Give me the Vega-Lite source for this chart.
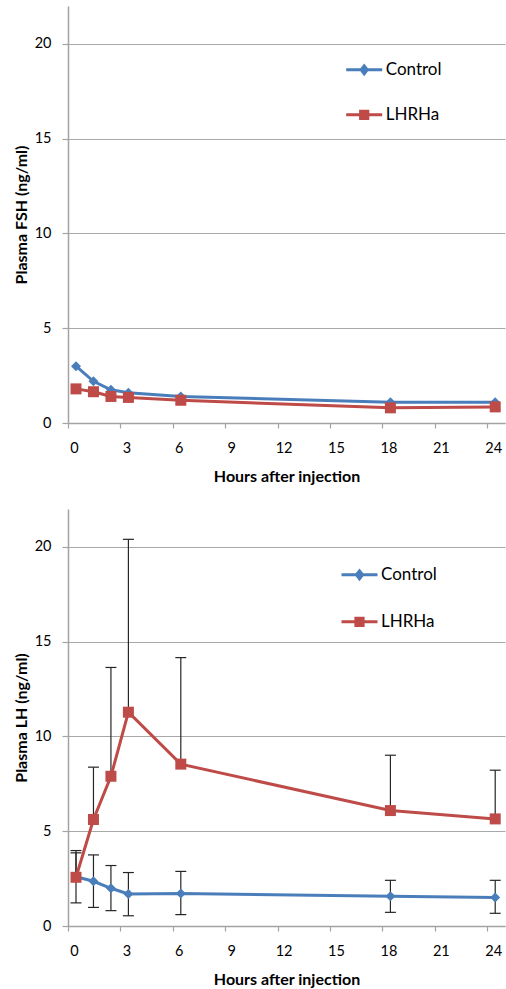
{
  "$schema": "https://vega.github.io/schema/vega-lite/v6.json",
  "padding": {"left": 13, "top": 6, "right": 3, "bottom": 0},
  "background": "white",
  "config": {
    "font": "Lato",
    "view": {"stroke": null},
    "axis": {
      "domainColor": "#a3a3a3",
      "domainWidth": 1.5,
      "tickColor": "#a3a3a3",
      "tickWidth": 1.2,
      "gridColor": "#a8a8a8",
      "gridWidth": 1.2,
      "labelFont": "Lato",
      "labelFontSize": 14.5,
      "labelColor": "#000000",
      "titleFont": "Lato",
      "titleFontSize": 16,
      "titleFontWeight": "bold",
      "titleColor": "#000000"
    },
    "axisX": {"tickSize": 5, "labelPadding": 13, "titlePadding": 14, "grid": false},
    "axisY": {"tickSize": 6, "labelPadding": 11, "titlePadding": 5, "grid": true}
  },
  "datasets": {
    "fsh": [
      {"group": "Control", "hours": 0, "value": 3.0},
      {"group": "Control", "hours": 1, "value": 2.2},
      {"group": "Control", "hours": 2, "value": 1.75},
      {"group": "Control", "hours": 3, "value": 1.6},
      {"group": "Control", "hours": 6, "value": 1.4},
      {"group": "Control", "hours": 18, "value": 1.1},
      {"group": "Control", "hours": 24, "value": 1.1},
      {"group": "LHRHa", "hours": 0, "value": 1.8},
      {"group": "LHRHa", "hours": 1, "value": 1.65},
      {"group": "LHRHa", "hours": 2, "value": 1.4},
      {"group": "LHRHa", "hours": 3, "value": 1.35},
      {"group": "LHRHa", "hours": 6, "value": 1.2},
      {"group": "LHRHa", "hours": 18, "value": 0.8},
      {"group": "LHRHa", "hours": 24, "value": 0.85}
    ],
    "lh": [
      {"group": "Control", "hours": 0, "value": 2.6, "lo": 1.22, "hi": 3.98},
      {"group": "Control", "hours": 1, "value": 2.36, "lo": 0.98, "hi": 3.75},
      {"group": "Control", "hours": 2, "value": 1.99, "lo": 0.81, "hi": 3.19},
      {"group": "Control", "hours": 3, "value": 1.69, "lo": 0.54, "hi": 2.82},
      {"group": "Control", "hours": 6, "value": 1.72, "lo": 0.6, "hi": 2.88},
      {"group": "Control", "hours": 18, "value": 1.57, "lo": 0.72, "hi": 2.41},
      {"group": "Control", "hours": 24, "value": 1.51, "lo": 0.67, "hi": 2.41},
      {"group": "LHRHa", "hours": 0, "value": 2.57, "lo": 2.57, "hi": 3.86},
      {"group": "LHRHa", "hours": 1, "value": 5.62, "lo": 5.62, "hi": 8.38},
      {"group": "LHRHa", "hours": 2, "value": 7.9, "lo": 7.9, "hi": 13.64},
      {"group": "LHRHa", "hours": 3, "value": 11.28, "lo": 11.28, "hi": 20.4},
      {"group": "LHRHa", "hours": 6, "value": 8.54, "lo": 8.54, "hi": 14.16},
      {"group": "LHRHa", "hours": 18, "value": 6.09, "lo": 6.09, "hi": 9.01},
      {"group": "LHRHa", "hours": 24, "value": 5.65, "lo": 5.65, "hi": 8.22}
    ]
  },
  "spacing": 86,
  "bounds": "flush",
  "resolve": {"scale": {"color": "independent"}, "legend": {"color": "independent"}},
  "vconcat": [
    {
      "width": 437,
      "height": 417,
      "data": {"name": "fsh"},
      "encoding": {
        "x": {"field": "hours", "type": "quantitative",
          "scale": {"domain": [-0.458, 24.56], "nice": false, "zero": false},
          "axis": {"values": [0, 3, 6, 9, 12, 15, 18, 21, 24], "tickOffset": -8, "labelOffset": 6, "title": "Hours after injection"}},
        "y": {"field": "value", "type": "quantitative",
          "scale": {"domain": [0, 22], "nice": false},
          "axis": {"values": [0, 5, 10, 15, 20], "title": "Plasma FSH (ng/ml)"}}
      },
      "layer": [
        {
          "mark": {"type": "line", "strokeWidth": 3},
          "encoding": {
            "color": {"field": "group", "type": "nominal",
              "scale": {"domain": ["Control", "LHRHa"], "range": ["#4a7ebb", "#be4b48"]},
              "legend": {"orient": "none", "legendX": 276.7, "legendY": 44.3, "title": null, "padding": 0,
                "symbolSize": 1296, "rowPadding": 15, "labelOffset": 2, "labelFontSize": 17, "labelFont": "Lato", "labelColor": "#000000",
                "symbolStrokeWidth": 3,
                "encode": {"symbols": {"update": {
                  "shape": {"signal": "datum.value === 'Control' ? 'M-1,0L1,0M0,-0.22L0.17,0L0,0.22L-0.17,0Z' : 'M-1,0L1,0M-0.2,-0.2L0.2,-0.2L0.2,0.2L-0.2,0.2Z'"},
                  "fill": {"signal": "datum.value === 'Control' ? '#4a7ebb' : '#be4b48'"},
                  "stroke": {"signal": "datum.value === 'Control' ? '#4a7ebb' : '#be4b48'"},
                  "strokeWidth": {"value": 3},
                  "opacity": {"value": 1}
                }}}}
            }
          }
        },
        {
          "transform": [{"filter": "datum.group === 'Control'"}],
          "mark": {"type": "point", "shape": "diamond", "filled": true, "size": 100, "opacity": 1, "color": "#4a7ebb"}
        },
        {
          "transform": [{"filter": "datum.group === 'LHRHa'"}],
          "mark": {"type": "point", "shape": "square", "filled": true, "size": 121, "opacity": 1, "color": "#be4b48"}
        }
      ]
    },
    {
      "width": 437,
      "height": 417,
      "data": {"name": "lh"},
      "encoding": {
        "x": {"field": "hours", "type": "quantitative",
          "scale": {"domain": [-0.458, 24.56], "nice": false, "zero": false},
          "axis": {"values": [0, 3, 6, 9, 12, 15, 18, 21, 24], "tickOffset": -8, "labelOffset": 6, "title": "Hours after injection"}}
      },
      "layer": [
        {
          "mark": {"type": "rule", "color": "#262626", "strokeWidth": 1.2},
          "encoding": {
            "y": {"field": "lo", "type": "quantitative", "scale": {"domain": [0, 22], "nice": false}},
            "y2": {"field": "hi"}
          }
        },
        {
          "mark": {"type": "tick", "orient": "horizontal", "color": "#262626", "size": 11, "thickness": 1.2, "opacity": 1},
          "encoding": {"y": {"field": "hi", "type": "quantitative"}}
        },
        {
          "transform": [{"filter": "datum.group === 'Control'"}],
          "mark": {"type": "tick", "orient": "horizontal", "color": "#262626", "size": 11, "thickness": 1.2, "opacity": 1},
          "encoding": {"y": {"field": "lo", "type": "quantitative"}}
        },
        {
          "mark": {"type": "line", "strokeWidth": 3},
          "encoding": {
            "y": {"field": "value", "type": "quantitative",
              "scale": {"domain": [0, 22], "nice": false},
              "axis": {"values": [0, 5, 10, 15, 20], "title": "Plasma LH (ng/ml)"}},
            "color": {"field": "group", "type": "nominal",
              "scale": {"domain": ["Control", "LHRHa"], "range": ["#4a7ebb", "#be4b48"]},
              "legend": {"orient": "none", "legendX": 272, "legendY": 46.3, "title": null, "padding": 0,
                "symbolSize": 1296, "rowPadding": 17, "labelOffset": 2, "labelFontSize": 17, "labelFont": "Lato", "labelColor": "#000000",
                "symbolStrokeWidth": 3,
                "encode": {"symbols": {"update": {
                  "shape": {"signal": "datum.value === 'Control' ? 'M-1,0L1,0M0,-0.22L0.17,0L0,0.22L-0.17,0Z' : 'M-1,0L1,0M-0.2,-0.2L0.2,-0.2L0.2,0.2L-0.2,0.2Z'"},
                  "fill": {"signal": "datum.value === 'Control' ? '#4a7ebb' : '#be4b48'"},
                  "stroke": {"signal": "datum.value === 'Control' ? '#4a7ebb' : '#be4b48'"},
                  "strokeWidth": {"value": 3},
                  "opacity": {"value": 1}
                }}}}
            }
          }
        },
        {
          "transform": [{"filter": "datum.group === 'Control'"}],
          "mark": {"type": "point", "shape": "diamond", "filled": true, "size": 100, "opacity": 1, "color": "#4a7ebb"},
          "encoding": {"y": {"field": "value", "type": "quantitative"}}
        },
        {
          "transform": [{"filter": "datum.group === 'LHRHa'"}],
          "mark": {"type": "point", "shape": "square", "filled": true, "size": 121, "opacity": 1, "color": "#be4b48"},
          "encoding": {"y": {"field": "value", "type": "quantitative"}}
        }
      ]
    }
  ]
}
